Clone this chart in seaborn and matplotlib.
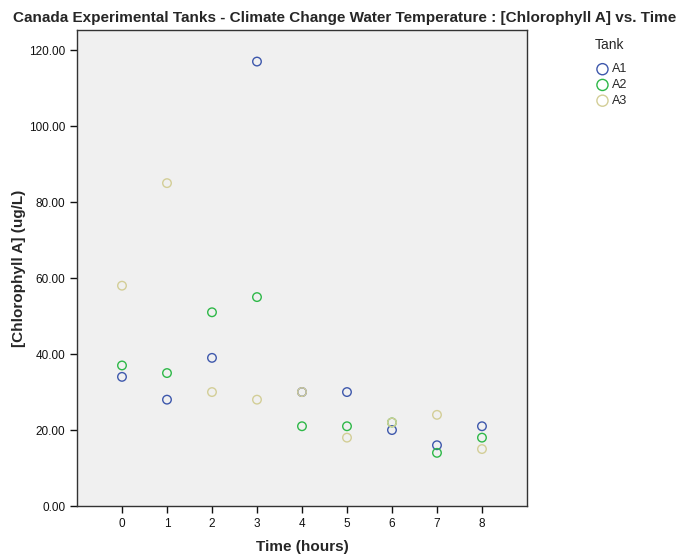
import matplotlib
matplotlib.use("Agg")
import matplotlib.pyplot as plt
import seaborn as sns
import pandas as pd

# Chlorophyll A readings per tank over time
hours = [0, 1, 2, 3, 4, 5, 6, 7, 8]
tank_a1 = [34, 28, 39, 117, 30, 30, 20, 16, 21]
tank_a2 = [37, 35, 51, 55, 21, 21, 22, 14, 18]
tank_a3 = [58, 85, 30, 28, 30, 18, 22, 24, 15]
tanks = ["A1", "A2", "A3"]
tank_colors = ["#3E58AC", "#2EB848", "#D3CE97"]
y_ticks = [0, 20, 40, 60, 80, 100, 120]

rows = []
for name, vals in zip(tanks, [tank_a1, tank_a2, tank_a3]):
    for h, v in zip(hours, vals):
        rows.append({"Time": h, "Chl": v, "Tank": name})
df = pd.DataFrame(rows)

sns.set_style("ticks")
plt.rcParams["font.family"] = ["Liberation Sans", "DejaVu Sans"]

fig = plt.figure(figsize=(6.85, 5.54), dpi=100)
ax = fig.add_axes([0.1124, 0.0866, 0.6569, 0.8592])
ax.set_facecolor("#F0F0F0")

for name, col in zip(tanks, tank_colors):
    sub = df[df["Tank"] == name]
    sns.scatterplot(data=sub, x="Time", y="Chl", ax=ax, marker="o", s=38,
                    facecolor="none", edgecolor=col, linewidth=1.0, label=name)

ax.set_xlim(-1, 9)
ax.set_ylim(0, 125.3)
ax.set_xticks(hours)
ax.set_xticklabels([str(h) for h in hours], fontsize=8.5)
ax.set_yticks(y_ticks)
ax.set_yticklabels([f"{t:.2f}" for t in y_ticks], fontsize=8.5)
ax.tick_params(direction="out", length=5, width=1, colors="#111111")
for s in ax.spines.values():
    s.set_color("#333333")
    s.set_linewidth(1.0)

ax.set_xlabel("Time (hours)", fontsize=11, fontweight="bold", labelpad=7)
ax.set_ylabel("[Chlorophyll A] (ug/L)", fontsize=11, fontweight="bold", labelpad=2)

fig.text(0.503, 0.967, "Canada Experimental Tanks - Climate Change Water Temperature : [Chlorophyll A] vs. Time",
         ha="center", va="center", fontsize=11, fontweight="bold")

leg = ax.legend(title="Tank", loc="upper left", bbox_to_anchor=(1.14, 0.993),
                frameon=False, fontsize=9, title_fontsize=10,
                handletextpad=0.2, handlelength=1.2, labelspacing=0.3,
                markerscale=1.3, borderaxespad=0.0)
leg._legend_box.align = "left"
leg._legend_box.sep = 8

fig.savefig("out.png", dpi=100, facecolor="white")
